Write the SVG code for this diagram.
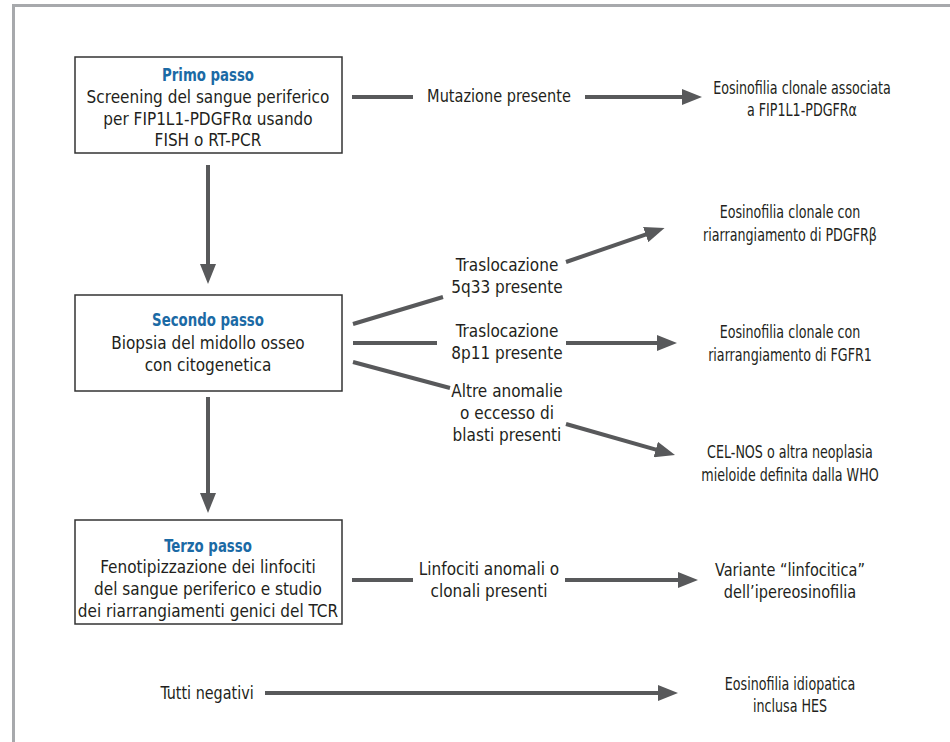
<svg xmlns="http://www.w3.org/2000/svg" width="950" height="742" viewBox="0 0 950 742">
<defs>
<style>
.frame{stroke:#a7a9ac;stroke-width:3;fill:none}
.box{fill:#fff;stroke:#333;stroke-width:1.5}
.t{font-family:"DejaVu Sans Condensed","Liberation Sans Narrow","Liberation Sans",sans-serif;font-stretch:condensed;font-size:17px;fill:#231f20;text-anchor:middle}
.h{font-weight:bold;fill:#1b6aa5}
.c{stroke:#58595b;stroke-width:4;fill:none;marker-end:url(#arr)}
.p{stroke:#58595b;stroke-width:4;fill:none}
.ah{fill:#58595b}
</style>
<marker id="arr" markerWidth="5" markerHeight="4" refX="3" refY="2" orient="auto" markerUnits="strokeWidth" viewBox="0 0 5 4">
<path d="M0,0 L5,2 L0,4 Z" class="ah"/>
</marker>
</defs>
<rect width="950" height="742" fill="#fff"/>
<path class="frame" d="M13.5,742 V5.5 H950"/>

<g id="step1">
<rect class="box" x="75" y="57" width="267" height="96"/>
<text class="t h" x="208" y="81" transform="matrix(0.87,0,0,1,27.04,0)">Primo passo</text>
<text class="t" x="208" y="103">Screening del sangue periferico</text>
<text class="t" x="208" y="125">per FIP1L1-PDGFRα usando</text>
<text class="t" x="208" y="146">FISH o RT-PCR</text>
</g>

<g id="step2">
<rect class="box" x="75" y="295" width="267" height="96"/>
<text class="t h" x="208" y="326" transform="matrix(0.87,0,0,1,27.04,0)">Secondo passo</text>
<text class="t" x="208" y="349">Biopsia del midollo osseo</text>
<text class="t" x="208" y="371">con citogenetica</text>
</g>

<g id="step3">
<rect class="box" x="75" y="520" width="267" height="104"/>
<text class="t h" x="208" y="552" transform="matrix(0.87,0,0,1,27.04,0)">Terzo passo</text>
<text class="t" x="208" y="573">Fenotipizzazione dei linfociti</text>
<text class="t" x="208" y="595">del sangue periferico e studio</text>
<text class="t" x="208" y="617">dei riarrangiamenti genici del TCR</text>
</g>

<g id="res1" transform="matrix(0.83,0,0,1,136.34,0)">
<text class="t" x="802" y="94">Eosinofilia clonale associata</text>
<text class="t" x="802" y="116">a FIP1L1-PDGFRα</text>
</g>
<g id="res2" transform="matrix(0.83,0,0,1,134.3,0)">
<text class="t" x="790" y="218">Eosinofilia clonale con</text>
<text class="t" x="790" y="241">riarrangiamento di PDGFRβ</text>
</g>
<g id="res3" transform="matrix(0.83,0,0,1,134.3,0)">
<text class="t" x="790" y="338">Eosinofilia clonale con</text>
<text class="t" x="790" y="361">riarrangiamento di FGFR1</text>
</g>
<g id="res4" transform="matrix(0.83,0,0,1,134.3,0)">
<text class="t" x="790" y="458">CEL-NOS o altra neoplasia</text>
<text class="t" x="790" y="481">mieloide definita dalla WHO</text>
</g>
<g id="res5" transform="matrix(0.95,0,0,1,39.5,0)">
<text class="t" x="790" y="576">Variante “linfocitica”</text>
<text class="t" x="790" y="598">dell’ipereosinofilia</text>
</g>
<g id="res6" transform="matrix(0.83,0,0,1,134.3,0)">
<text class="t" x="790" y="690">Eosinofilia idiopatica</text>
<text class="t" x="790" y="712">inclusa HES</text>
</g>

<g id="connectors">
<line class="c" x1="208" y1="165" x2="208" y2="276"/>
<line class="c" x1="208" y1="397" x2="208" y2="505"/>

<line class="p" x1="352" y1="97" x2="413" y2="97"/>
<line class="c" x1="585" y1="97" x2="694" y2="97"/>

<line class="p" x1="353" y1="324" x2="443" y2="297"/>
<line class="c" x1="566" y1="262" x2="657" y2="230.7"/>

<line class="p" x1="353" y1="343" x2="437" y2="343"/>
<line class="c" x1="566" y1="343" x2="669" y2="343"/>

<line class="p" x1="353" y1="362" x2="450" y2="388"/>
<line class="c" x1="566" y1="424" x2="667.3" y2="452.8"/>

<line class="p" x1="352" y1="580" x2="413" y2="580"/>
<line class="c" x1="565" y1="580" x2="690" y2="580"/>

<line class="c" x1="265" y1="693" x2="670" y2="693"/>
</g>

<g id="labels">
<text class="t" x="499" y="102" transform="matrix(0.95,0,0,1,24.95,0)">Mutazione presente</text>
<text class="t" x="507" y="271">Traslocazione</text>
<text class="t" x="507" y="293">5q33 presente</text>
<text class="t" x="507" y="337">Traslocazione</text>
<text class="t" x="507" y="359">8p11 presente</text>
<text class="t" x="507" y="397">Altre anomalie</text>
<text class="t" x="507" y="419">o eccesso di</text>
<text class="t" x="507" y="441">blasti presenti</text>
<text class="t" x="489" y="575">Linfociti anomali o</text>
<text class="t" x="489" y="597">clonali presenti</text>
<text class="t" x="207" y="699" transform="matrix(0.94,0,0,1,12.42,0)">Tutti negativi</text>
</g>
</svg>
